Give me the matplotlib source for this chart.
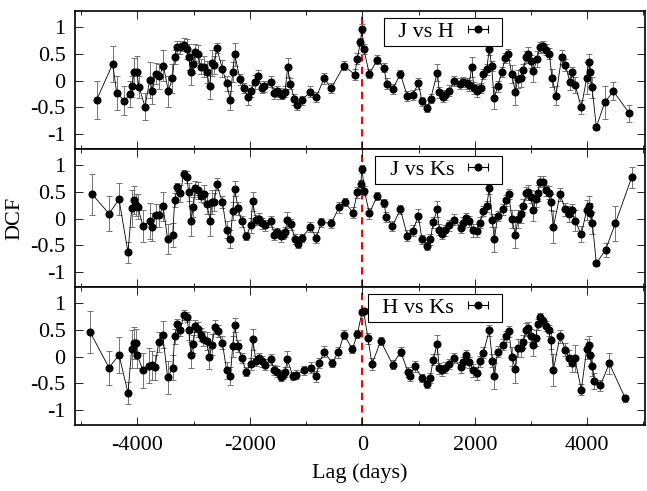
import numpy as np
import matplotlib
matplotlib.use('Agg')
import matplotlib.pyplot as plt
from matplotlib.lines import Line2D
from matplotlib.legend_handler import HandlerLine2D
from matplotlib.ticker import MultipleLocator, FuncFormatter

plt.rcParams['font.family'] = ['Liberation Serif', 'DejaVu Serif']
plt.rcParams['axes.unicode_minus'] = False

# J vs H
lag_jh = [-4725, -4440, -4369, -4233, -4132, -4096, -4061, -4013, -3972, -3865,
          -3782, -3735, -3675, -3610, -3539, -3450, -3379, -3337, -3296, -3243,
          -3177, -3124, -3088, -3047, -3006, -2970, -2928, -2875, -2816, -2768,
          -2715, -2679, -2632, -2590, -2490, -2413, -2348, -2306, -2271, -2175,
          -2104, -2039, -1980, -1909, -1861, -1790, -1743, -1630, -1565, -1523,
          -1464, -1423, -1375, -1328, -1280, -1209, -1156, -1079, -924, -818,
          -681, -551, -326, -136, -88, -35, -5, 24, 125, 267,
          386, 433, 540, 677, 801, 896, 997, 1062, 1151, 1216,
          1335, 1370, 1429, 1477, 1548, 1631, 1738, 1797, 1857, 1898,
          1945, 1987, 2046, 2105, 2153, 2212, 2259, 2301, 2343, 2408,
          2479, 2544, 2597, 2657, 2722, 2764, 2817, 2864, 2912, 2953,
          2995, 3042, 3107, 3161, 3208, 3267, 3327, 3374, 3445, 3546,
          3611, 3694, 3736, 3783, 3896, 3991, 4026, 4050, 4086, 4163,
          4311, 4465, 4749]
dcf_jh = [-0.36, 0.31, -0.23, -0.38, -0.25, -0.11, 0.16, 0.16, -0.12, -0.49,
          0.01, -0.19, 0.13, 0.08, 0.28, -0.20, 0.04, 0.44, 0.62, 0.62,
          0.67, 0.59, 0.44, 0.16, 0.31, 0.53, 0.50, 0.26, 0.26, 0.16,
          -0.11, 0.33, 0.29, 0.61, 0.22, -0.05, -0.37, 0.16, 0.49, 0.02,
          -0.14, -0.31, -0.20, -0.02, 0.09, -0.14, -0.11, -0.02, -0.24, -0.20,
          -0.24, -0.27, -0.21, 0.25, -0.06, -0.35, -0.46, -0.37, -0.21, -0.31,
          0.04, -0.14, 0.28, 0.11, 0.41, 0.72, 0.97, 0.59, 0.13, 0.39,
          0.24, -0.06, -0.16, 0.12, -0.29, -0.27, -0.05, -0.39, -0.51, -0.34,
          0.15, -0.22, -0.30, -0.27, -0.19, -0.01, -0.06, -0.03, -0.05, -0.09,
          0.25, -0.14, -0.19, -0.14, 0.12, 0.21, 0.59, 0.27, -0.33, -0.11,
          0.16, 0.42, 0.49, 0.12, -0.21, 0.03, 0.05, 0.19, 0.44, 0.50,
          0.36, 0.17, 0.41, 0.62, 0.64, 0.58, 0.50, 0.05, -0.28, 0.44,
          0.29, -0.03, 0.16, -0.08, -0.50, 0.05, 0.35, 0.16, -0.13, -0.87,
          -0.41, -0.20, -0.61]
err_jh = [0.36, 0.33, 0.32, 0.27, 0.25, 0.20, 0.27, 0.30, 0.20, 0.25,
          0.33, 0.25, 0.19, 0.23, 0.29, 0.29, 0.27, 0.14, 0.11, 0.12,
          0.12, 0.19, 0.25, 0.24, 0.17, 0.16, 0.17, 0.14, 0.19, 0.20,
          0.24, 0.25, 0.16, 0.10, 0.16, 0.14, 0.18, 0.19, 0.22, 0.10,
          0.10, 0.15, 0.11, 0.13, 0.10, 0.10, 0.10, 0.10, 0.10, 0.10,
          0.10, 0.08, 0.10, 0.18, 0.10, 0.10, 0.09, 0.08, 0.10, 0.10,
          0.10, 0.10, 0.08, 0.10, 0.10, 0.08, 0.08, 0.10, 0.08, 0.08,
          0.08, 0.10, 0.10, 0.08, 0.10, 0.10, 0.10, 0.08, 0.08, 0.08,
          0.15, 0.10, 0.10, 0.10, 0.10, 0.10, 0.10, 0.10, 0.10, 0.10,
          0.19, 0.12, 0.12, 0.10, 0.10, 0.10, 0.12, 0.10, 0.21, 0.10,
          0.10, 0.10, 0.10, 0.17, 0.25, 0.17, 0.17, 0.12, 0.12, 0.12,
          0.12, 0.20, 0.15, 0.10, 0.10, 0.10, 0.10, 0.17, 0.17, 0.13,
          0.12, 0.15, 0.10, 0.15, 0.13, 0.30, 0.15, 0.20, 0.20, 0.05,
          0.30, 0.17, 0.16]

# J vs Ks
lag_jk = [-4802, -4505, -4328, -4168, -4102, -4061, -4025, -3995, -3901, -3782,
          -3735, -3675, -3610, -3545, -3462, -3373, -3337, -3290, -3237, -3177,
          -3124, -3088, -3047, -3006, -2970, -2928, -2875, -2816, -2768, -2703,
          -2679, -2632, -2590, -2490, -2413, -2348, -2306, -2271, -2211, -2146,
          -2063, -1986, -1950, -1891, -1843, -1790, -1731, -1630, -1565, -1511,
          -1452, -1417, -1375, -1334, -1274, -1197, -1150, -1079, -924, -818,
          -729, -551, -415, -314, -166, -88, -29, -5, 36, 125,
          267, 386, 427, 534, 677, 801, 896, 997, 1062, 1151,
          1210, 1263, 1329, 1370, 1423, 1477, 1548, 1631, 1750, 1797,
          1850, 1903, 1975, 2034, 2093, 2153, 2212, 2259, 2313, 2348,
          2408, 2497, 2556, 2603, 2663, 2722, 2769, 2817, 2864, 2917,
          2953, 3001, 3042, 3084, 3119, 3166, 3214, 3267, 3315, 3351,
          3398, 3517, 3611, 3671, 3724, 3778, 3896, 3991, 4026, 4056,
          4091, 4163, 4329, 4500, 4791]
dcf_jk = [0.45, 0.09, 0.36, -0.63, 0.19, 0.34, 0.25, 0.22, -0.14, -0.05,
          -0.16, 0.06, 0.06, 0.23, -0.39, -0.31, 0.34, 0.59, 0.47, 0.83,
          0.78, 0.50, -0.05, 0.22, 0.57, 0.53, 0.42, 0.46, 0.28, -0.04,
          0.31, 0.31, 0.64, 0.31, -0.21, -0.39, 0.14, 0.56, 0.19, -0.05,
          -0.33, -0.13, 0.32, -0.03, 0.00, -0.09, -0.13, -0.05, -0.30, -0.25,
          -0.33, -0.30, -0.25, -0.03, -0.11, -0.38, -0.47, -0.36, -0.16, -0.36,
          -0.07, -0.09, 0.21, 0.31, 0.11, 0.49, 0.64, 0.93, 0.52, 0.10,
          0.42, 0.29, 0.03, -0.14, 0.17, -0.32, -0.23, 0.05, -0.39, -0.51,
          -0.39, -0.07, 0.17, -0.21, -0.29, -0.22, -0.13, -0.02, -0.17, -0.08,
          0.01, -0.05, -0.22, -0.23, -0.08, 0.14, 0.23, 0.57, -0.03, -0.39,
          0.05, 0.17, 0.34, 0.46, -0.01, -0.31, -0.01, 0.08, 0.24, 0.47,
          0.50, 0.41, 0.16, 0.36, 0.48, 0.69, 0.69, 0.53, 0.48, 0.31,
          -0.16, 0.45, 0.17, 0.08, 0.16, -0.04, -0.29, 0.16, 0.24, 0.11,
          -0.08, -0.84, -0.58, -0.09, 0.77]
err_jk = [0.39, 0.33, 0.30, 0.20, 0.35, 0.26, 0.20, 0.23, 0.30, 0.34,
          0.26, 0.22, 0.22, 0.27, 0.28, 0.23, 0.13, 0.08, 0.16, 0.08,
          0.11, 0.17, 0.28, 0.19, 0.13, 0.16, 0.12, 0.17, 0.20, 0.28,
          0.23, 0.17, 0.11, 0.12, 0.16, 0.17, 0.17, 0.14, 0.12, 0.10,
          0.08, 0.14, 0.17, 0.10, 0.10, 0.10, 0.10, 0.10, 0.10, 0.08,
          0.10, 0.08, 0.10, 0.15, 0.10, 0.10, 0.08, 0.08, 0.10, 0.10,
          0.08, 0.08, 0.10, 0.08, 0.10, 0.10, 0.08, 0.08, 0.08, 0.10,
          0.08, 0.08, 0.10, 0.10, 0.08, 0.10, 0.10, 0.12, 0.08, 0.08,
          0.10, 0.10, 0.15, 0.10, 0.10, 0.10, 0.10, 0.10, 0.10, 0.10,
          0.10, 0.10, 0.12, 0.12, 0.10, 0.10, 0.10, 0.12, 0.12, 0.24,
          0.10, 0.10, 0.10, 0.10, 0.17, 0.25, 0.17, 0.17, 0.12, 0.12,
          0.12, 0.12, 0.20, 0.15, 0.15, 0.10, 0.10, 0.10, 0.12, 0.15,
          0.30, 0.12, 0.12, 0.15, 0.12, 0.20, 0.15, 0.18, 0.18, 0.18,
          0.20, 0.05, 0.13, 0.33, 0.20]

# H vs Ks
lag_hk = [-4844, -4505, -4328, -4168, -4102, -4061, -4025, -4002, -3901, -3788,
          -3735, -3687, -3622, -3551, -3462, -3373, -3337, -3290, -3237, -3177,
          -3124, -3088, -3047, -3006, -2970, -2928, -2875, -2828, -2768, -2721,
          -2673, -2620, -2567, -2490, -2413, -2348, -2306, -2271, -2211, -2146,
          -2063, -1986, -1950, -1891, -1843, -1790, -1731, -1630, -1565, -1523,
          -1452, -1417, -1375, -1334, -1239, -1180, -1043, -907, -818, -770,
          -675, -539, -427, -326, -177, -88, -5, 24, 101, 172,
          327, 540, 682, 813, 854, 932, 1062, 1151, 1204, 1263,
          1329, 1370, 1423, 1477, 1548, 1631, 1750, 1797, 1850, 1903,
          1975, 2034, 2099, 2153, 2259, 2313, 2348, 2408, 2497, 2556,
          2603, 2663, 2722, 2769, 2817, 2864, 2917, 2953, 3001, 3042,
          3084, 3119, 3161, 3214, 3267, 3315, 3351, 3398, 3517, 3611,
          3671, 3724, 3778, 3896, 3991, 4026, 4056, 4091, 4127, 4233,
          4393, 4678]
dcf_hk = [0.46, -0.21, 0.03, -0.68, 0.14, 0.25, 0.26, 0.02, -0.26, -0.17,
          -0.16, -0.20, 0.27, 0.41, -0.39, -0.21, 0.38, 0.61, 0.50, 0.78,
          0.74, 0.50, 0.03, 0.24, 0.57, 0.51, 0.41, 0.33, 0.29, -0.01,
          0.22, 0.56, 0.48, 0.26, -0.26, -0.37, 0.19, 0.59, 0.19, -0.03,
          -0.28, -0.14, 0.32, -0.08, -0.03, -0.09, -0.15, -0.05, -0.25, -0.28,
          -0.38, -0.34, -0.29, -0.05, -0.36, -0.34, -0.26, -0.21, -0.37, -0.12,
          0.09, -0.12, 0.08, 0.41, 0.14, 0.42, 0.83, 0.85, 0.34, -0.14,
          0.29, -0.15, 0.09, -0.29, -0.36, -0.18, -0.40, -0.51, -0.40, -0.06,
          0.23, -0.22, -0.26, -0.21, -0.14, -0.03, -0.20, -0.10, 0.02, -0.11,
          -0.26, -0.31, -0.09, 0.07, 0.49, -0.08, -0.37, 0.09, 0.22, 0.38,
          0.47, 0.00, -0.24, 0.16, 0.16, 0.28, 0.50, 0.53, 0.39, 0.21,
          0.35, 0.60, 0.74, 0.66, 0.57, 0.49, 0.30, -0.25, 0.38, 0.13,
          -0.03, -0.13, -0.03, -0.62, 0.14, 0.21, 0.02, -0.17, -0.45, -0.54,
          -0.13, -0.78]
err_hk = [0.40, 0.32, 0.34, 0.20, 0.35, 0.30, 0.25, 0.23, 0.33, 0.33,
          0.27, 0.23, 0.19, 0.25, 0.31, 0.23, 0.14, 0.10, 0.12, 0.09,
          0.09, 0.19, 0.24, 0.17, 0.12, 0.14, 0.12, 0.14, 0.17, 0.23,
          0.20, 0.13, 0.11, 0.12, 0.16, 0.17, 0.19, 0.13, 0.11, 0.09,
          0.09, 0.12, 0.19, 0.09, 0.10, 0.10, 0.10, 0.10, 0.10, 0.10,
          0.08, 0.08, 0.10, 0.15, 0.08, 0.08, 0.08, 0.10, 0.10, 0.10,
          0.10, 0.08, 0.10, 0.08, 0.08, 0.08, 0.06, 0.06, 0.10, 0.12,
          0.08, 0.08, 0.08, 0.10, 0.10, 0.10, 0.08, 0.08, 0.10, 0.10,
          0.18, 0.10, 0.10, 0.10, 0.10, 0.10, 0.10, 0.10, 0.10, 0.10,
          0.12, 0.12, 0.10, 0.10, 0.10, 0.12, 0.24, 0.10, 0.10, 0.10,
          0.10, 0.17, 0.25, 0.17, 0.17, 0.12, 0.12, 0.12, 0.12, 0.20,
          0.15, 0.10, 0.08, 0.08, 0.10, 0.10, 0.15, 0.30, 0.12, 0.12,
          0.15, 0.15, 0.25, 0.10, 0.18, 0.18, 0.20, 0.20, 0.15, 0.10,
          0.20, 0.07]

labels = ['J vs H', 'J vs Ks', 'H vs Ks']
series = [(lag_jh, dcf_jh, err_jh), (lag_jk, dcf_jk, err_jk), (lag_hk, dcf_hk, err_hk)]

fig, axes = plt.subplots(3, 1, figsize=(6.47, 4.91), dpi=100, sharex=True)
fig.subplots_adjust(left=0.1164, right=0.9969, top=0.9776, bottom=0.1344, hspace=0)

fs = 16
for ax, (lag, dcf, err), lab in zip(axes, series, labels):
    ax.axvline(0, color='red', lw=1.5, dashes=(3.5, 2.5), zorder=1)
    ax.errorbar(lag, dcf, yerr=err, fmt='-o', color='k', lw=0.6, ms=4.8,
                ecolor='0.45', elinewidth=0.7, capsize=2.4, capthick=0.7, zorder=2)
    ax.set_xlim(-5105, 5028)
    ax.set_ylim(-1.28, 1.30)
    ax.xaxis.set_major_locator(MultipleLocator(2000))
    ax.xaxis.set_minor_locator(MultipleLocator(1000))
    ax.yaxis.set_major_locator(MultipleLocator(0.5))
    ax.yaxis.set_major_formatter(FuncFormatter(lambda v, p: '%g' % v))
    ax.tick_params(which='both', direction='in', top=True, right=True, labelsize=fs)
    ax.tick_params(which='major', length=5.5, width=0.6)
    ax.tick_params(which='minor', length=2.8, width=0.6)
    ax.tick_params(axis='y', pad=7)
    ax.tick_params(axis='x', pad=8)
    for s in ax.spines.values():
        s.set_linewidth(1.2)

    # gnuplot-style key sample: horizontal bar with end caps and a dot
    bar = Line2D([], [], color='k', lw=0.8, marker='|', ms=6, mew=0.8)
    dot = Line2D([], [], ls='none', marker='o', color='k', ms=4.8)
    leg = ax.legend([(bar, dot)], ['  ' + lab], loc='upper right', bbox_to_anchor=(0.749, 0.947),
                    handler_map={bar: HandlerLine2D(numpoints=2, marker_pad=0.5),
                                 dot: HandlerLine2D(numpoints=1)},
                    markerfirst=False, fancybox=False, framealpha=1, edgecolor='k',
                    fontsize=fs, borderpad=0.15, borderaxespad=0, handlelength=1.9,
                    handletextpad=0.1)
    leg.get_frame().set_linewidth(0.8)

axes[1].set_ylabel('DCF', fontsize=fs, labelpad=4)
axes[2].set_xlabel('Lag (days)', fontsize=fs, labelpad=6)

plt.savefig('out.png', dpi=100)
